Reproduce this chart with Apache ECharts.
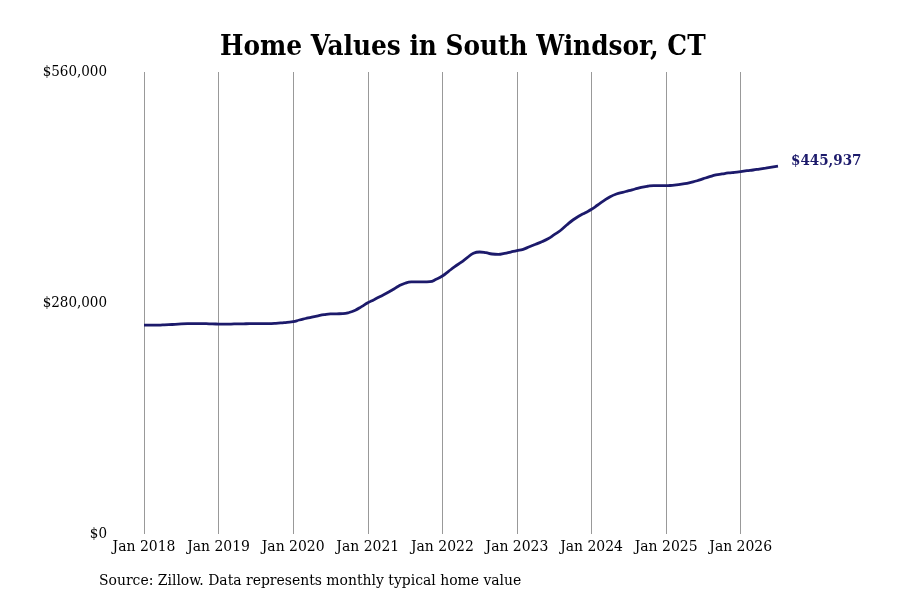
<!DOCTYPE html>
<html>
<head>
<meta charset="utf-8">
<script src="https://cdn.jsdelivr.net/npm/echarts@6/dist/echarts.min.js"></script>
<style>
  html, body { margin: 0; padding: 0; background: #fff; }
  #chart { width: 900px; height: 600px; }
</style>
</head>
<body>
<div id="chart"></div>
<script>
// monthly typical home value
var v2018 = [253300, 253300, 253200, 253400, 253700, 254200, 254600, 254900, 255100, 255100, 254900, 254600];
var v2019 = [254500, 254400, 254500, 254700, 254800, 254900, 254900, 254900, 255000, 255300, 255800, 256600];
var v2020 = [257300, 259400, 261200, 263000, 264500, 265800, 266700, 266900, 267100, 268500, 271300, 275600];
var v2021 = [280200, 284000, 287900, 291800, 296100, 300600, 303900, 305500, 305700, 305500, 305800, 308700];
var v2022 = [312700, 318400, 324000, 329300, 334900, 340200, 341800, 341000, 339400, 339000, 340200, 341800];
var v2023 = [343400, 345100, 348200, 351200, 354300, 357900, 362800, 367900, 374500, 380600, 385500, 389500];
var v2024 = [393600, 398800, 404000, 408800, 412100, 414200, 416100, 418200, 420200, 421500, 422200, 422200];
var v2025 = [422200, 422700, 423400, 424600, 426300, 428200, 430700, 433100, 435200, 436400, 437600, 438400];
var v2026 = [439200, 440400, 441200, 442400, 443600, 444800, 445937];

var years = [2018, 2019, 2020, 2021, 2022, 2023, 2024, 2025, 2026];
var monthNames = ['Jan', 'Feb', 'Mar', 'Apr', 'May', 'Jun', 'Jul', 'Aug', 'Sep', 'Oct', 'Nov', 'Dec'];
var yTicks = [0, 280000, 560000];

var values = [].concat(v2018, v2019, v2020, v2021, v2022, v2023, v2024, v2025, v2026);
var months = [];
for (var i = 0; i < values.length; i++) {
  months.push(monthNames[i % 12] + ' ' + years[Math.floor(i / 12)]);
}

var font = '"DejaVu Serif Condensed", "DejaVu Serif", serif';
var chart = echarts.init(document.getElementById('chart'));

chart.setOption({
  animation: false,
  title: {
    text: 'Home Values in South Windsor, CT',
    left: 215,
    top: 29,
    textStyle: { fontFamily: font, fontSize: 27.6, fontWeight: 'bold', color: '#000' }
  },
  grid: { left: 144, right: 122, top: 72, bottom: 66 },
  xAxis: {
    type: 'category',
    data: months,
    boundaryGap: false,
    axisLine: { show: false },
    axisTick: { show: false },
    axisLabel: {
      interval: function (idx) { return idx % 12 === 0; },
      margin: 5,
      fontFamily: font,
      fontSize: 15.5,
      color: '#000'
    },
    splitLine: {
      show: true,
      interval: function (idx) { return idx % 12 === 0; },
      lineStyle: { color: '#999', width: 1 }
    }
  },
  yAxis: {
    type: 'value',
    min: yTicks[0],
    max: yTicks[2],
    interval: yTicks[1] - yTicks[0],
    axisLine: { show: false },
    axisTick: { show: false },
    splitLine: { show: false },
    axisLabel: {
      margin: 37,
      fontFamily: font,
      fontSize: 15,
      color: '#000',
      formatter: function (v) { return '$' + v.toLocaleString('en-US'); }
    }
  },
  series: [{
    type: 'line',
    data: values,
    smooth: true,
    showSymbol: false,
    lineStyle: { color: '#1c1a6b', width: 2.8 },
    endLabel: {
      show: true,
      distance: 13,
      offset: [0, -5],
      fontFamily: font,
      fontSize: 15,
      fontWeight: 'bold',
      color: '#1c1a6b',
      formatter: function (p) { return '$' + p.value.toLocaleString('en-US'); }
    }
  }],
  graphic: [{
    type: 'text',
    left: 99,
    top: 573,
    style: {
      text: 'Source: Zillow. Data represents monthly typical home value',
      fontFamily: font,
      fontSize: 15.5,
      fill: '#000'
    }
  }]
});
</script>
</body>
</html>
